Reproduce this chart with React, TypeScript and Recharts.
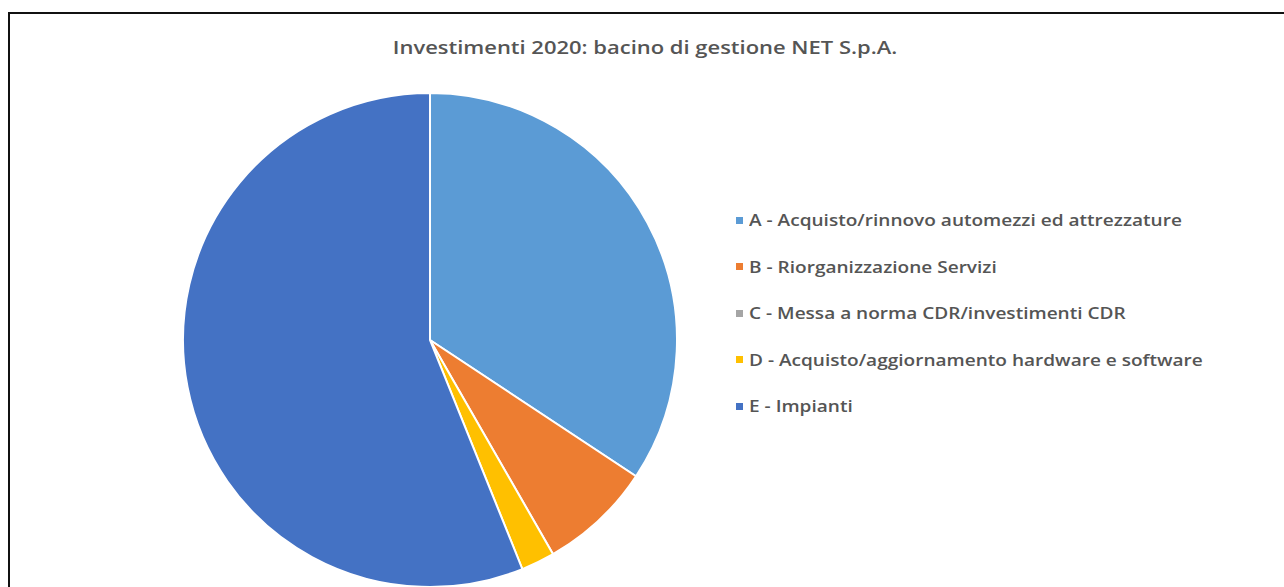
import { PieChart, Pie, Cell } from 'recharts'

const categories = [
    'A - Acquisto/rinnovo automezzi ed attrezzature',
    'B - Riorganizzazione Servizi',
    'C - Messa a norma CDR/investimenti CDR',
    'D - Acquisto/aggiornamento hardware e software',
    'E - Impianti',
]
// share of total investment (%)
const values = [34.3, 7.4, 0, 2.2, 56.1]
const COLORS = ['#5B9BD5', '#ED7D31', '#A5A5A5', '#FFC000', '#4472C4']

const title = 'Investimenti 2020: bacino di gestione NET S.p.A.'

const FONT = '"Open Sans", Lato, sans-serif'

export default function App() {
    const data = categories.map((name, i) => ({ name, value: values[i] }))

    return (
        <div style={{ position: 'absolute', left: 0, top: 0, width: 1284, height: 587, overflow: 'hidden', background: '#fff', fontFamily: FONT }}>
            <div style={{ position: 'absolute', left: 8, top: 12, width: 1300, height: 620, borderTop: '2px solid #111', borderLeft: '2px solid #111' }} />
            <div style={{ position: 'absolute', left: 0, top: 0, width: 1284, height: 587 }}>
                <PieChart width={1284} height={587}>
                    <Pie
                        data={data}
                        dataKey="value"
                        nameKey="name"
                        cx={425}
                        cy={335}
                        outerRadius={247}
                        startAngle={90}
                        endAngle={-270}
                        stroke="#fff"
                        strokeWidth={2}
                        isAnimationActive={false}
                    >
                        {data.map((d, i) => (
                            <Cell key={d.name} fill={COLORS[i]} />
                        ))}
                    </Pie>
                </PieChart>
            </div>
            <div style={{ position: 'absolute', left: 0, top: 34, width: 1290, textAlign: 'center', fontSize: 18, fontWeight: 600, color: '#555', lineHeight: '26px', transform: 'scaleX(1.22)', transformOrigin: '645px 0' }}>
                {title}
            </div>
            <div style={{ position: 'absolute', left: 736, top: 197 }}>
                {categories.map((c, i) => (
                    <div key={c} style={{ display: 'flex', alignItems: 'center', height: 46.5, fontSize: 17, fontWeight: 600, color: '#555' }}>
                        <span style={{ width: 7, height: 7, background: COLORS[i], marginRight: 6, display: 'inline-block', flex: 'none' }} />
                        <span style={{ lineHeight: '20px', whiteSpace: 'nowrap', display: 'inline-block', transform: 'scaleX(1.12)', transformOrigin: '0 0' }}>{c}</span>
                    </div>
                ))}
            </div>
        </div>
    )
}
